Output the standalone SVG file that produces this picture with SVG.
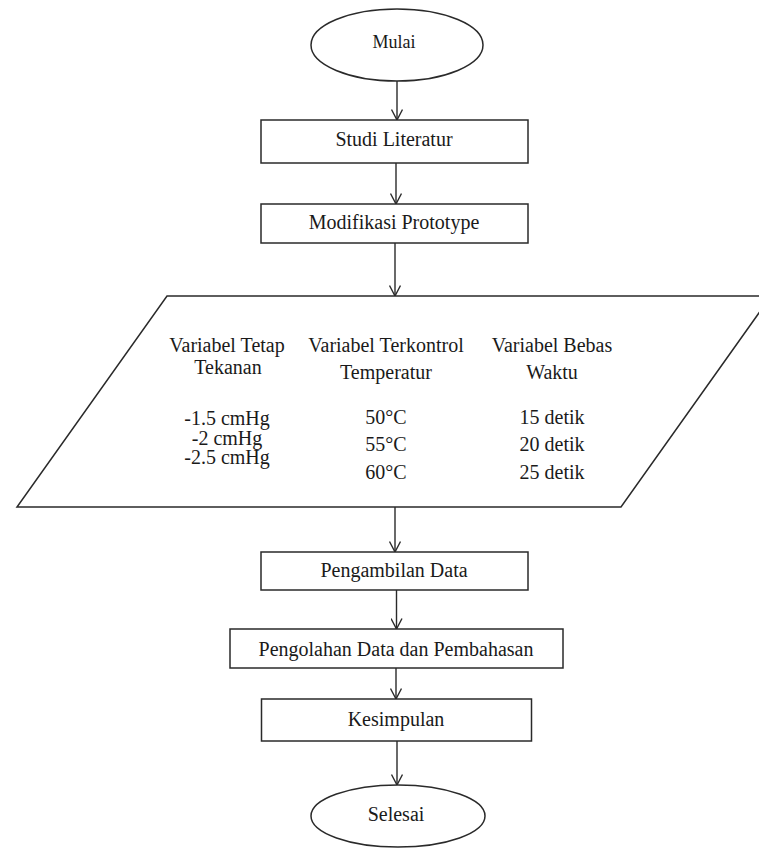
<svg xmlns="http://www.w3.org/2000/svg" width="759" height="849" viewBox="0 0 759 849">
<defs>
<style>
.shape{fill:#fff;stroke:#2a2a2a;stroke-width:1.5}
.conn{fill:none;stroke:#2a2a2a;stroke-width:1.4}
text{font-family:"Liberation Serif","Times New Roman",serif;font-size:20px;fill:#1a1a1a;text-anchor:middle}
</style>
<marker id="arr" markerUnits="userSpaceOnUse" viewBox="0 0 12 12" markerWidth="12" markerHeight="12" refX="11" refY="6" orient="auto">
<path d="M0.5,0.5 L11,6 L0.5,11.5" fill="none" stroke="#2a2a2a" stroke-width="1.4"/>
</marker>
</defs>
<rect width="759" height="849" fill="#fff"/>
<g id="connectors">
<line class="conn" x1="397" y1="81" x2="397" y2="120" marker-end="url(#arr)"/>
<line class="conn" x1="396" y1="163" x2="396" y2="204" marker-end="url(#arr)"/>
<line class="conn" x1="395" y1="243" x2="395" y2="296" marker-end="url(#arr)"/>
<line class="conn" x1="395" y1="507" x2="395" y2="552" marker-end="url(#arr)"/>
<line class="conn" x1="396.5" y1="590" x2="396.5" y2="629" marker-end="url(#arr)"/>
<line class="conn" x1="396" y1="668" x2="396" y2="699" marker-end="url(#arr)"/>
<line class="conn" x1="397" y1="741" x2="397" y2="785" marker-end="url(#arr)"/>
</g>
<g id="mulai">
<ellipse class="shape" cx="397" cy="45" rx="86" ry="36"/>
<text x="394" y="48" style="font-size:18px">Mulai</text>
</g>
<g id="studi-literatur">
<rect class="shape" x="261" y="120" width="267" height="43"/>
<text x="394" y="146">Studi Literatur</text>
</g>
<g id="modifikasi-prototype">
<rect class="shape" x="261" y="204" width="267" height="39"/>
<text x="394" y="229">Modifikasi Prototype</text>
</g>
<g id="variabel">
<polygon class="shape" points="167,296 771,296 621,507 17,507"/>
<text x="227" y="352">Variabel Tetap</text>
<text x="228" y="374">Tekanan</text>
<text x="227" y="425">-1.5 cmHg</text>
<text x="227" y="445">-2 cmHg</text>
<text x="227" y="464">-2.5 cmHg</text>
<text x="386" y="352">Variabel Terkontrol</text>
<text x="386" y="379">Temperatur</text>
<text x="386" y="424">50°C</text>
<text x="386" y="451">55°C</text>
<text x="386" y="479">60°C</text>
<text x="552" y="352">Variabel Bebas</text>
<text x="552" y="379">Waktu</text>
<text x="552" y="424">15 detik</text>
<text x="552" y="451">20 detik</text>
<text x="552" y="479">25 detik</text>
</g>
<g id="pengambilan-data">
<rect class="shape" x="261" y="552" width="267" height="38"/>
<text x="394" y="577">Pengambilan Data</text>
</g>
<g id="pengolahan-data">
<rect class="shape" x="230" y="629" width="333" height="39"/>
<text x="396" y="656">Pengolahan Data dan Pembahasan</text>
</g>
<g id="kesimpulan">
<rect class="shape" x="261.5" y="699" width="270" height="42"/>
<text x="396" y="726">Kesimpulan</text>
</g>
<g id="selesai">
<ellipse class="shape" cx="398" cy="816" rx="87" ry="31"/>
<text x="396" y="821">Selesai</text>
</g>
</svg>
